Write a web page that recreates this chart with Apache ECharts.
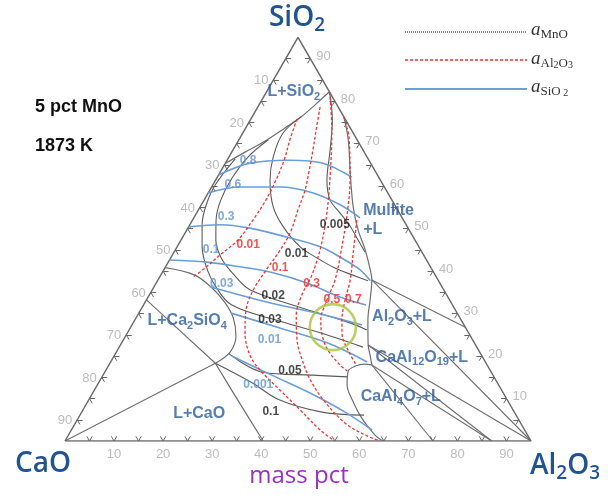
<!DOCTYPE html>
<html>
<head>
<meta charset="utf-8">
<title>CaO-SiO2-Al2O3 (5 pct MnO) iso-activity lines, 1873 K</title>
<script src="https://cdn.jsdelivr.net/npm/echarts@6/dist/echarts.min.js"></script>
<style>
html,body{margin:0;padding:0;background:#fff;}
#chart{width:608px;height:500px;}
</style>
</head>
<body>
<div id="chart"></div>
<script>
// Every composition point is [Al2O3, SiO2] in mass pct; CaO is the balance to 95 (5 pct MnO fixed).
const TOTAL = 95;
const tickLabels = [10, 20, 30, 40, 50, 60, 70, 80, 90];
const tickMarks = [5, 10, 15, 20, 25, 30, 35, 40, 45, 50, 55, 60, 65, 70, 75, 80, 85, 90];

// triangle outline
const frame = [[0, 0], [95, 0], [0, 95], [0, 0]];

// liquidus / phase-field boundaries
const bndSilica = [[0, 65.3], [2.7, 68.0], [5.5, 70.6], [8.0, 73.7], [10.0, 76.3], [11.5, 79.3], [12.8, 82.2]];
const bndMulliteAlumina = [[18.7, 76.3], [22.3, 70.9], [26.6, 63.1], [31.2, 55.1], [34.9, 49.7], [38.7, 45.0], [41.8, 40.7], [43.6, 37.9], [45.6, 33.2], [47.5, 28.5], [50.5, 22.6], [52.1, 20.2], [53.6, 17.9]];
const bndCA2 = [[64.8, 0], [62.5, 1.4], [57.8, 5.4], [53.7, 9.7], [50.9, 13.2], [49.5, 16.5], [50.5, 17.7], [51.9, 18.1], [53.6, 17.9]];
const bndC2S = [[0, 40.8], [6.8, 39.1], [12.0, 36.0], [16.4, 32.5], [19.8, 29.0], [22.5, 24.7], [23.2, 21.0], [21.5, 18.3]];
const bndLime = [[21.5, 18.3], [29.2, 10.8], [40.4, 0]];
const tieLines = [
  [[43.6, 37.9], [68.2, 26.8]],
  [[43.6, 37.9], [95, 0]],
  [[50.5, 22.6], [95, 0]],
  [[50.5, 22.6], [87, 0]],
  [[53.6, 17.9], [87, 0]],
  [[53.6, 17.9], [75, 0]],
  [[0, 0], [21.5, 18.3]],
  [[0, 33.2], [21.5, 18.3]]
];

// a(MnO) iso-activity lines
const mno_0005 = [[12.9, 82.1], [16.7, 75.6], [19.8, 68.5], [22.7, 61.4], [25.7, 56.7], [29.2, 53.7], [32.8, 50.6], [36.8, 46.6], [38.9, 44.5]];
const mno_001 = [[10.0, 76.3], [8.2, 72.5], [9.0, 66.9], [11.1, 61.4], [14.9, 55.1], [19.3, 50.4], [25.1, 45.7], [29.8, 43.1], [34.7, 40.7], [39.0, 39.1], [42.9, 37.7]];
const mno_002 = [[6.0, 70.9], [3.9, 66.9], [3.1, 61.9], [3.4, 56.7], [4.8, 52.0], [7.1, 47.3], [10.3, 43.1], [14.3, 39.6], [19.9, 35.6], [32.1, 31.5], [44.2, 27.8], [48.5, 26.1]];
const mno_003 = [[1.5, 66.4], [0.5, 60.3], [1.0, 55.6], [2.5, 50.9], [4.9, 46.1], [8.0, 41.4], [12.2, 36.7], [18.0, 32.0], [30.4, 28.0], [38.5, 25.7], [49.7, 22.1]];
const mno_005 = [[23.2, 20.5], [32.2, 16.2], [42.8, 15.5], [50.0, 15.1]];
const mno_01 = [[21.5, 18.3], [31.3, 13.7], [38.8, 9.7], [49.0, 6.8], [57.9, 6.1]];

// a(Al2O3) iso-activity lines
const al_001 = [[9.4, 75.8], [10.4, 70.9], [11.6, 66.2], [12.3, 61.4], [12.6, 56.7], [12.3, 52.0], [11.6, 47.3], [9.7, 43.8], [8.2, 40.7], [6.8, 38.6]];
const al_01 = [[12.7, 78.6], [14.6, 73.2], [16.3, 68.5], [17.9, 63.8], [19.4, 59.1], [20.3, 54.4], [21.4, 49.0], [21.4, 45.0], [20.9, 40.3], [20.6, 35.6], [21.5, 30.8], [24.0, 25.4], [27.6, 20.2], [31.4, 16.7], [37.8, 12.0], [44.3, 7.3], [50.7, 2.6], [55.0, 0]];
const al_03 = [[12.9, 82.1], [17.8, 73.2], [23.3, 61.4], [27.2, 52.0], [29.5, 45.0], [30.8, 39.1], [31.1, 34.4], [32.3, 29.7], [35.4, 23.8], [38.8, 19.1], [42.8, 14.4], [47.8, 9.7], [55.0, 4.2], [60.5, 1.4], [64.2, 0]];
const al_05 = [[18.7, 76.3], [22.5, 70.9], [27.4, 61.4], [30.7, 53.7], [33.6, 45.7], [36.1, 37.9], [36.8, 33.2], [37.9, 28.5], [39.9, 25.0], [42.9, 21.4], [47.1, 17.9], [49.3, 16.5]];
const al_07 = [[33.5, 52.0], [36.6, 44.3], [39.2, 37.9], [40.5, 33.2], [42.2, 28.5], [44.0, 25.0], [47.0, 21.4], [50.4, 17.9]];

// a(SiO2) iso-activity lines
const si_08 = [[0, 62.6], [5.0, 65.4], [12.8, 66.1], [19.9, 65.4], [27.4, 62.1]];
const si_06 = [[0, 58.4], [5.8, 59.8], [13.9, 59.8], [21.4, 58.4], [28.3, 55.6], [33.9, 52.5]];
const si_03 = [[0, 50.4], [6.2, 50.9], [12.6, 50.1], [21.2, 48.0], [29.2, 45.7], [34.4, 43.3], [40.0, 40.3], [43.4, 37.7]];
const si_01 = [[0, 42.6], [7.9, 42.1], [15.2, 41.0], [22.6, 39.6], [30.7, 37.2], [39.1, 33.9], [45.4, 32.0]];
const si_003 = [[11.4, 36.3], [24.8, 32.7], [37.8, 29.7], [46.9, 27.3]];
const si_001 = [[18.8, 30.1], [30.5, 26.6], [41.9, 23.1], [52.3, 18.6]];
const si_0001 = [[24.0, 20.0], [34.4, 15.5], [44.3, 11.3], [53.7, 6.8], [61.3, 2.6]];

// value labels placed on the curves
const mnoLabels = ['0.005', '0.01', '0.02', '0.03', '0.05', '0.1'];
const mnoLabelAt = [[29.6, 50.8], [25.1, 44.2], [25.4, 34.1], [27.5, 28.6], [37.6, 16.5], [38.5, 6.9]];
const alLabels = ['0.01', '0.1', '0.3', '0.5', '0.7'];
const alLabelAt = [[14.3, 46.1], [23.5, 40.7], [31.7, 37.1], [37.8, 33.2], [42.2, 33.2]];
const siLabels = ['0.8', '0.6', '0.3', '0.1', '0.03', '0.01', '0.001'];
const siLabelAt = [[4.3, 66.0], [4.0, 60.4], [6.5, 52.7], [7.3, 45.0], [13.4, 37.1], [29.8, 23.8], [32.8, 13.2]];

// phase-field names (centre positions), plus the left-aligned mullite field
const fieldNames = ['{m|L+SiO}{s|2}', '{m|Al}{s|2}{m|O}{s|3}{m|+L}', '{m|CaAl}{s|12}{m|O}{s|19}{m|+L}', '{m|CaAl}{s|4}{m|O}{s|7}{m|+L}', '{m|L+Ca}{s|2}{m|SiO}{s|4}', '{m|L+CaO}'];
const fieldAt = [[5.7, 81.9], [54.2, 29.0], [63.0, 19.5], [63.4, 10.1], [10.9, 28.0], [24.3, 6.1]];
const mulliteName = '{m|Mullite}\n{m|+L}';
const mulliteAt = [34.9, 51.8];

// composition window that is ringed
const ringAt = [41.2, 26.8];

const SQ = Math.sqrt(3) / 2;
const xy = p => [p[0] + p[1] / 2, p[1] * SQ];

const GRAY = '#6e6e6e', RED = '#f03434', BLUE = '#6b9ed6';
const FIELD = '#2c5d9e';
const SANS = 'Liberation Sans, Arial, sans-serif';

function curve(pts, color, width, dash, z) {
  return {
    type: 'line', data: pts.map(xy), showSymbol: false, smooth: 0.35, silent: true,
    lineStyle: { color: color, width: width, type: dash || 'solid' }, z: z || 2
  };
}
function straight(seg, color, width) {
  return { type: 'line', data: seg.map(xy), showSymbol: false, smooth: false, silent: true,
    lineStyle: { color: color, width: width }, z: 2 };
}
function textLayer(names, at, color, size, weight, rich, align) {
  return {
    type: 'scatter', symbolSize: 0, silent: true, z: 10,
    data: names.map((n, i) => ({ name: n, value: xy(at[i]) })),
    label: { show: true, position: 'inside', formatter: '{b}', color: color, fontSize: size,
      fontWeight: weight, fontFamily: SANS, rich: rich || undefined, align: align || 'center' }
  };
}
const fieldRich = {
  m: { fontSize: 16, fontWeight: 'bold', color: FIELD, fontFamily: SANS, lineHeight: 19, padding: [0, 0, 2, 0] },
  s: { fontSize: 11, fontWeight: 'bold', color: FIELD, fontFamily: SANS, lineHeight: 11, verticalAlign: 'bottom' }
};

const series = [];
series.push(straight(frame, '#6a6a6a', 1.5));
[bndSilica, bndMulliteAlumina, bndCA2, bndC2S, bndLime].forEach(c => series.push(curve(c, GRAY, 1.2)));
tieLines.forEach(t => series.push(straight(t, GRAY, 1.1)));
[mno_0005, mno_001, mno_002, mno_003, mno_005, mno_01].forEach(c => series.push(curve(c, '#5a5a5a', 1.1)));
[si_08, si_06, si_03, si_01, si_003, si_001, si_0001].forEach(c => series.push(curve(c, BLUE, 1.6, null, 3)));
[al_001, al_01, al_03, al_05, al_07].forEach(c => series.push(curve(c, RED, 1.3, [3, 2], 4)));

// tick marks on the three edges
const tickSegs = [];
tickMarks.forEach(t => {
  tickSegs.push({ coords: [xy([t, 0]), xy([t, 1.1])] }, { coords: [xy([t, 0]), xy([t - 1.1, 1.1])] });
  tickSegs.push({ coords: [xy([0, TOTAL - t]), xy([1.1, TOTAL - t])] }, { coords: [xy([0, TOTAL - t]), xy([1.1, TOTAL - t - 1.1])] });
  tickSegs.push({ coords: [xy([TOTAL - t, t]), xy([TOTAL - t - 1.1, t])] }, { coords: [xy([TOTAL - t, t]), xy([TOTAL - t, t - 1.1])] });
});
series.push({ type: 'lines', coordinateSystem: 'cartesian2d', silent: true, z: 5,
  lineStyle: { color: '#666', width: 1, opacity: 1 }, data: tickSegs });

// tick labels
const tickFont = { color: '#ababab', fontSize: 13, fontFamily: SANS };
series.push({ type: 'scatter', symbolSize: 0, silent: true, z: 10,
  data: tickLabels.map(t => ({ name: String(t), value: xy([t, 0]) })),
  label: Object.assign({ show: true, position: 'bottom', distance: 7, formatter: '{b}' }, tickFont) });
series.push({ type: 'scatter', symbolSize: 0, silent: true, z: 10,
  data: tickLabels.map(t => ({ name: String(t), value: xy([0, TOTAL - t]) })),
  label: Object.assign({ show: true, position: 'left', distance: 5, offset: [0, 1], formatter: '{b}' }, tickFont) });
series.push({ type: 'scatter', symbolSize: 0, silent: true, z: 10,
  data: tickLabels.map(t => ({ name: String(t), value: xy([TOTAL - t, t]) })),
  label: Object.assign({ show: true, position: 'right', distance: 6, offset: [0, -2], formatter: '{b}' }, tickFont) });

// curve values and field names
series.push(textLayer(mnoLabels, mnoLabelAt, '#1a1a1a', 12, 'bold'));
series.push(textLayer(alLabels, alLabelAt, '#f02a2a', 12, 'bold'));
series.push(textLayer(siLabels, siLabelAt, '#5d94d2', 12, 'bold'));
series.push(textLayer(fieldNames, fieldAt, FIELD, 16, 'bold', fieldRich));
series.push({ type: 'scatter', symbolSize: 0, silent: true, z: 10,
  data: [{ name: mulliteName, value: xy(mulliteAt) }],
  label: { show: true, position: 'right', distance: 0, formatter: '{b}', align: 'left', rich: fieldRich } });

// highlighted ring
series.push({ type: 'scatter', silent: true, z: 12, symbol: 'circle', symbolSize: 46,
  data: [xy(ringAt)], itemStyle: { color: 'rgba(0,0,0,0)', borderColor: '#a9c43c', borderWidth: 2.6 } });

const cornerRich = (size) => ({
  m: { fontSize: size, color: '#1f5391', fill: '#1f5391', fontFamily: 'Open Sans, Liberation Sans, sans-serif', fontWeight: 600, lineHeight: size + 2, padding: [0, 0, 4, 0] },
  s: { fontSize: Math.round(size * 0.68), color: '#1f5391', fill: '#1f5391', fontFamily: 'Open Sans, Liberation Sans, sans-serif', fontWeight: 600, lineHeight: Math.round(size * 0.68), verticalAlign: 'bottom' }
});
const legendRich = {
  a: { fontSize: 19, fontStyle: 'italic', fill: '#333', color: '#333', fontFamily: 'Liberation Serif, serif', lineHeight: 20, padding: [0, 0, 3, 0] },
  s: { fontSize: 13, fill: '#333', color: '#333', fontFamily: 'Liberation Serif, serif', lineHeight: 13, verticalAlign: 'bottom' },
  t: { fontSize: 10, fill: '#333', color: '#333', fontFamily: 'Liberation Serif, serif', lineHeight: 6, verticalAlign: 'bottom' }
};

function gText(x, y, text, rich, align) {
  return { type: 'text', x: x, y: y, silent: true, z: 20,
    style: { text: text, rich: rich, align: align || 'center', verticalAlign: 'middle', textAlign: align || 'center', textVerticalAlign: 'middle' } };
}
function gPlain(x, y, text, font, color, align) {
  return { type: 'text', x: x, y: y, silent: true, z: 20,
    style: { text: text, fill: color, font: font, align: align, verticalAlign: 'middle', textAlign: align, textVerticalAlign: 'middle' } };
}
function gLine(y, color, width, dash) {
  return { type: 'line', silent: true, z: 20, shape: { x1: 405, y1: y, x2: 527, y2: y },
    style: { stroke: color, lineWidth: width, lineDash: dash || null } };
}

const chart = echarts.init(document.getElementById('chart'), null, { renderer: 'canvas' });
chart.setOption({
  animation: false,
  backgroundColor: '#fff',
  grid: { left: 65, top: 37.4, width: 466, height: 403.6 },
  xAxis: { type: 'value', min: 0, max: TOTAL, show: false },
  yAxis: { type: 'value', min: 0, max: TOTAL * SQ, show: false },
  series: series,
  graphic: [
    gText(297, 20, '{m|SiO}{s|2}', cornerRich(28)),
    gText(43, 466, '{m|CaO}', cornerRich(28)),
    gText(565, 468, '{m|Al}{s|2}{m|O}{s|3}', cornerRich(28)),
    gPlain(299, 476, 'mass pct', '24px "Open Sans", "Liberation Sans", sans-serif', '#9b2fc4', 'center'),
    gPlain(35, 107, '5 pct MnO', 'bold 18px "Liberation Sans", Arial, sans-serif', '#111', 'left'),
    gPlain(35, 146, '1873 K', 'bold 18px "Liberation Sans", Arial, sans-serif', '#111', 'left'),
    gLine(32, '#444', 1.3, [1, 1]),
    gLine(60, '#ee3030', 1.3, [3, 2]),
    gLine(89, '#6b9ed6', 2),
    gText(531, 31, '{a|a}{s|MnO}', legendRich, 'left'),
    gText(531, 60, '{a|a}{s|Al}{t|2}{s|O}{t|3}', legendRich, 'left'),
    gText(531, 88, '{a|a}{s|SiO}{t| 2}', legendRich, 'left')
  ]
});
</script>
</body>
</html>
